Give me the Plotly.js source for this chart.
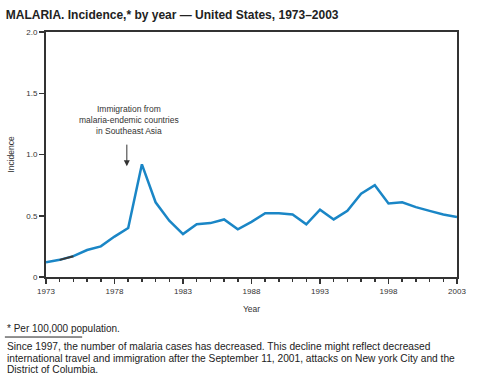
<!DOCTYPE html>
<html><head><meta charset="utf-8">
<script src="https://cdn.plot.ly/plotly-3.0.1.min.js"></script>
<style>html,body{margin:0;padding:0;background:#fff}#chart{width:478px;height:386px}</style>
</head><body><div id="chart"></div>
<script>
var years = [1973,1974,1975,1976,1977,1978,1979,1980,1981,1982,1983,1984,1985,1986,1987,1988,1989,1990,1991,1992,1993,1994,1995,1996,1997,1998,1999,2000,2001,2002,2003];
var incidence = [0.12,0.14,0.17,0.22,0.25,0.33,0.40,0.92,0.61,0.46,0.35,0.43,0.44,0.47,0.39,0.45,0.52,0.52,0.51,0.43,0.55,0.47,0.54,0.68,0.75,0.60,0.61,0.57,0.54,0.51,0.49];
var yTickVals = [0,0.5,1,1.5,2];
var yTickText = ["0","0.5","1.0","1.5","2.0"];
var xTickVals = [1973,1978,1983,1988,1993,1998,2003];
var xTickText = ["1973","1978","1983","1988","1993","1998","2003"];
var noteLines = [
  "Since 1997, the number of malaria cases has decreased. This decline might reflect decreased",
  "international travel and immigration after the September 11, 2001, attacks on New york City and the",
  "District of Columbia."
];

var FONT = "Liberation Sans, Arial, Helvetica, sans-serif";
var dark = "#333333";

var traces = [
  {x: years, y: incidence, type: "scatter", mode: "lines",
   line: {color: "#1a86c6", width: 2.5}, hoverinfo: "skip"},
  {x: years.slice(1,3), y: incidence.slice(1,3), type: "scatter", mode: "lines",
   line: {color: "#3a3a3a", width: 2}, hoverinfo: "skip"}
];

var noteX = -0.0998;
var annotations = [
  {x: 1979.05, y: 1.28, xref: "x", yref: "y", showarrow: false,
   text: "Immigration from<br>malaria-endemic countries<br>in Southeast Asia",
   align: "center", font: {size: 8.5, color: dark}},
  {x: 1978.9, y: 0.905, xref: "x", yref: "y", showarrow: true, text: "",
   ax: 0, ay: -23, arrowhead: 2, arrowsize: 1.2, arrowwidth: 1, arrowcolor: dark},
  {xref: "paper", yref: "paper", x: noteX, y: -0.212, xanchor: "left", yanchor: "middle",
   showarrow: false, text: "* Per 100,000 population.", font: {size: 10, color: "#222"}}
];
var noteY = [-0.2856, -0.3325, -0.3794];
noteLines.forEach(function (t, i) {
  annotations.push({xref: "paper", yref: "paper", x: noteX, y: noteY[i], xanchor: "left", yanchor: "middle",
    showarrow: false, text: t, font: {size: 10.2, color: "#222"}});
});

var layout = {
  width: 478, height: 386,
  margin: {l: 46, r: 21, t: 32, b: 109},
  paper_bgcolor: "#fff", plot_bgcolor: "#fff",
  showlegend: false,
  font: {family: FONT, color: dark, size: 8},
  title: {text: "<b>MALARIA. Incidence,* by year — United States, 1973–2003</b>",
          x: 0.012, xanchor: "left", y: 0.962, yanchor: "middle",
          font: {family: FONT, size: 12, color: "#222"}},
  xaxis: {range: [1973, 2003], tickvals: xTickVals, ticktext: xTickText,
          showgrid: false, zeroline: false, showline: true, mirror: true,
          linecolor: dark, linewidth: 2, ticks: "outside", ticklen: 5, tickwidth: 1.5, tickcolor: dark,
          minor: {dtick: 1, tick0: 1973, ticks: "outside", ticklen: 3, tickwidth: 1.5, tickcolor: dark, showgrid: false},
          tickfont: {size: 8, color: dark},
          title: {text: "Year", font: {size: 8.5, color: dark}, standoff: 11}},
  yaxis: {range: [0, 2], tickvals: yTickVals, ticktext: yTickText,
          showgrid: false, zeroline: false, showline: true, mirror: true,
          linecolor: dark, linewidth: 2, ticks: "outside", ticklen: 5, tickwidth: 1.5, tickcolor: dark,
          tickfont: {size: 8, color: dark},
          title: {text: "Incidence", font: {size: 8.5, color: dark}, standoff: 10}},
  annotations: annotations,
  shapes: [
    {type: "line", xref: "paper", yref: "paper", x0: -0.1, x1: 0.088, y0: -0.245, y1: -0.245,
     line: {color: "#222", width: 1}}
  ]
};

Plotly.newPlot("chart", traces, layout, {displayModeBar: false, staticPlot: true});
</script></body></html>
